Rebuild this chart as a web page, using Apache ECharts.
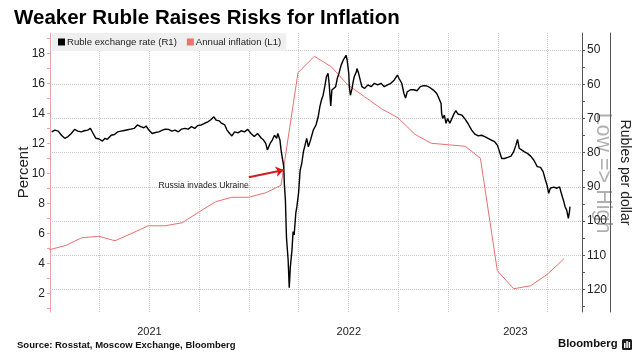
<!DOCTYPE html>
<html><head><meta charset="utf-8">
<script src="https://cdn.jsdelivr.net/npm/echarts@6/dist/echarts.min.js"></script>
<style>html,body{margin:0;padding:0;background:#fff}#c{width:640px;height:361px}</style>
</head><body><div id="c"></div>
<script>
// ---- data ----
const rubleDates = [
'2021-01-04','2021-01-10','2021-01-16','2021-01-22','2021-01-28','2021-02-03','2021-02-09','2021-02-15','2021-02-21','2021-02-27',
'2021-03-05','2021-03-11','2021-03-16','2021-03-20','2021-03-26','2021-04-01','2021-04-07','2021-04-12','2021-04-16','2021-04-23',
'2021-04-29','2021-05-05','2021-05-11','2021-05-17','2021-05-23','2021-05-29','2021-06-04','2021-06-10','2021-06-16','2021-06-22',
'2021-06-26','2021-07-01','2021-07-07','2021-07-13','2021-07-19','2021-07-25','2021-07-31','2021-08-06','2021-08-12','2021-08-18',
'2021-08-24','2021-08-30','2021-09-05','2021-09-11','2021-09-17','2021-09-23','2021-09-28','2021-10-05','2021-10-11','2021-10-17',
'2021-10-23','2021-10-28','2021-11-01','2021-11-07','2021-11-10','2021-11-17','2021-11-21','2021-11-26','2021-11-30','2021-12-05',
'2021-12-11','2021-12-17','2021-12-23','2021-12-29','2022-01-04','2022-01-10','2022-01-16','2022-01-19','2022-01-23','2022-01-27',
'2022-01-31','2022-02-03','2022-02-08','2022-02-12','2022-02-16','2022-02-20','2022-02-22','2022-02-26','2022-02-28','2022-03-02',
'2022-03-05','2022-03-06','2022-03-08','2022-03-09','2022-03-10','2022-03-11','2022-03-13','2022-03-15','2022-03-17','2022-03-20',
'2022-03-22','2022-03-24','2022-03-27','2022-03-29','2022-04-01','2022-04-04','2022-04-07','2022-04-10','2022-04-16','2022-04-19',
'2022-04-23','2022-04-28','2022-05-03','2022-05-07','2022-05-10','2022-05-13','2022-05-16','2022-05-19','2022-05-22','2022-05-25',
'2022-05-27','2022-05-30','2022-06-01','2022-06-03','2022-06-08','2022-06-11','2022-06-14','2022-06-18','2022-06-22','2022-06-24',
'2022-06-27','2022-06-29','2022-07-02','2022-07-03','2022-07-05','2022-07-08','2022-07-10','2022-07-12','2022-07-16','2022-07-17',
'2022-07-20','2022-07-23','2022-07-26','2022-07-31','2022-08-06','2022-08-12','2022-08-18','2022-08-24','2022-08-30','2022-09-05',
'2022-09-11','2022-09-17','2022-09-23','2022-09-29','2022-10-02','2022-10-07','2022-10-11','2022-10-14','2022-10-17','2022-10-23',
'2022-10-29','2022-11-04','2022-11-10','2022-11-16','2022-11-22','2022-11-28','2022-12-04','2022-12-10','2022-12-14','2022-12-18',
'2022-12-19','2022-12-21','2022-12-24','2022-12-27','2022-12-30','2023-01-03','2023-01-06','2023-01-11','2023-01-14','2023-01-18',
'2023-01-25','2023-01-30','2023-02-05','2023-02-12','2023-02-18','2023-02-24','2023-03-02','2023-03-08','2023-03-14','2023-03-20',
'2023-03-26','2023-03-31','2023-04-04','2023-04-08','2023-04-13','2023-04-19','2023-04-25','2023-04-30','2023-05-04','2023-05-07',
'2023-05-10','2023-05-13','2023-05-19','2023-05-25','2023-05-31','2023-06-06','2023-06-12','2023-06-18','2023-06-23','2023-06-27',
'2023-06-30','2023-07-03','2023-07-06','2023-07-12','2023-07-18','2023-07-23','2023-07-27','2023-07-30','2023-08-02','2023-08-05',
'2023-08-08','2023-08-10','2023-08-11'
];
const rubleRates = [
73.9,73.4,73.7,74.9,75.8,75.3,74.4,73.2,73.7,73.9,
73.6,73.4,72.9,74.1,75.8,76.0,76.6,75.8,76.1,74.9,
74.7,73.9,73.7,73.5,73.3,73.1,72.9,71.9,72.4,72.7,
72.2,73.4,74.4,74.1,73.9,73.5,73.1,73.2,73.7,73.4,
73.9,73.1,72.9,73.1,72.4,72.9,72.1,71.9,71.4,71.0,
70.3,69.5,70.5,70.7,71.3,71.9,73.4,74.4,75.1,73.9,
74.2,73.6,73.9,73.2,74.4,75.3,74.4,74.9,75.8,76.3,
77.3,79.2,77.3,76.3,74.9,75.8,74.4,76.3,79.2,81.2,
84.1,89.0,93.9,99.7,105.0,104.6,111.4,119.5,113.4,108.5,
103.1,104.1,97.7,95.8,91.9,85.1,83.1,79.7,75.8,78.3,
76.3,73.4,71.9,69.5,66.6,64.6,63.2,60.7,57.8,56.8,
59.7,66.3,61.7,61.2,60.7,58.3,56.8,54.4,52.9,53.4,
51.5,52.9,56.8,60.7,63.2,61.2,59.3,57.8,56.3,55.4,
56.8,58.8,60.7,61.2,60.2,60.7,59.7,60.2,59.7,60.7,
60.2,59.7,58.8,57.3,58.3,59.7,62.7,64.0,62.2,61.6,
61.6,61.9,60.7,60.4,60.5,61.0,61.7,62.7,64.1,65.6,
68.5,70.0,69.0,71.4,70.0,71.4,71.9,68.5,67.7,68.7,
69.0,70.0,71.4,73.4,74.6,75.1,74.9,75.3,75.8,76.3,
76.8,77.8,79.7,81.7,81.7,81.4,81.0,79.7,77.8,76.1,
78.7,79.2,79.7,80.2,81.0,82.2,84.1,84.3,85.6,88.0,
89.5,91.9,90.4,90.1,90.4,90.0,92.4,93.9,95.8,96.8,
99.2,97.3,95.8
];
const inflationDates = [
'2020-12-31','2021-01-31','2021-02-28','2021-03-31','2021-04-30','2021-05-31','2021-06-30','2021-07-31','2021-08-31','2021-09-30',
'2021-10-31','2021-11-30','2021-12-31','2022-01-31','2022-02-28','2022-03-31','2022-04-30','2022-05-31','2022-06-30','2022-07-31',
'2022-08-31','2022-09-30','2022-10-31','2022-11-30','2022-12-31','2023-01-31','2023-02-28','2023-03-31','2023-04-30','2023-05-31',
'2023-06-30','2023-07-31'
];
const inflationRates = [
4.9,5.2,5.7,5.8,5.5,6.0,6.5,6.5,6.7,7.4,
8.1,8.4,8.4,8.7,9.2,16.7,17.8,17.1,15.9,15.1,
14.3,13.7,12.6,12.0,11.9,11.8,11.0,3.5,2.3,2.5,
3.25,4.3
];
const leftLabelValues = [2,4,6,8,10,12,14,16,18];
const leftTickValues = [1,2,3,4,5,6,7,8,9,10,11,12,13,14,15,16,17,18,19];
const rightLabelValues = [50,60,70,80,90,100,110,120];
const rightTickValues = [50,55,60,65,70,75,80,85,90,95,100,105,110,115,120,125];
const quarterStarts = ['2021-04-01','2021-07-01','2021-10-01','2022-01-01','2022-04-01','2022-07-01','2022-10-01','2023-01-01','2023-04-01','2023-07-01'];
const yearLabelDates = ['2021-07-02','2022-07-02','2023-05-03'];
const axisStart = '2021-01-01', axisEnd = '2023-09-02';
const invasionArrow = [['2021-12-31', 9.73], ['2022-03-05', 10.22]];
const invasionLabelAt = ['2021-12-31', 9.17];
const seriesNames = ['Ruble exchange rate (R1)', 'Annual inflation (L1)'];

function ts(s){ const p = s.split('-').map(Number); return Date.UTC(p[0], p[1]-1, p[2]); }
const F = 'Liberation Sans, Arial, sans-serif';
const chart = echarts.init(document.getElementById('c'), null, {renderer:'canvas'});

const gridMarks = quarterStarts.map(d => ({xAxis: ts(d)})).concat(rightLabelValues.map(v => ({yAxis: v})));

chart.setOption({
  animation: false,
  backgroundColor: '#fff',
  title: {text: 'Weaker Ruble Raises Risks for Inflation', left: 14, top: 8, padding: 0,
    textStyle: {fontFamily: F, fontWeight: 'bold', fontSize: 20.5, color: '#000'}},
  legend: {left: 52, top: 33, padding: [4, 5, 4, 6], backgroundColor: '#efefef', itemWidth: 7, itemHeight: 7, itemGap: 10,
    icon: 'rect', textStyle: {fontFamily: F, fontSize: 9.6, color: '#222', padding: [0,0,0,-3]},
    data: [{name: seriesNames[0], itemStyle: {color: '#000'}}, {name: seriesNames[1], itemStyle: {color: '#f07070'}}]},
  grid: {left: 50, right: 51, top: 33, bottom: 49},
  xAxis: {type: 'value', min: ts(axisStart), max: ts(axisEnd), scale: true,
    axisLine: {show: false}, axisTick: {show: false}, splitLine: {show: false},
    axisLabel: {customValues: yearLabelDates.map(ts), formatter: v => String(new Date(v).getUTCFullYear()),
      fontFamily: F, fontSize: 11, color: '#222', margin: 14, hideOverlap: false}},
  yAxis: [
    {type: 'value', position: 'left', min: 0.75, max: 19.35,
      axisLine: {show: true, lineStyle: {color: '#f0a0a0'}},
      axisTick: {show: true, length: 3, customValues: leftTickValues, lineStyle: {color: '#f0a0a0'}},
      axisLabel: {customValues: leftLabelValues, fontFamily: F, fontSize: 12, color: '#222', margin: 5},
      splitLine: {show: false},
      name: 'Percent', nameLocation: 'middle', nameRotate: 90, nameGap: 19, nameMoveOverlap: false,
      nameTextStyle: {fontFamily: F, fontSize: 15, color: '#222'}},
    {type: 'value', position: 'right', inverse: true, min: 45, max: 126.6,
      axisLine: {show: true, lineStyle: {color: '#555'}},
      axisTick: {show: true, length: 3, customValues: rightTickValues, lineStyle: {color: '#555'}},
      axisLabel: {customValues: rightLabelValues, fontFamily: F, fontSize: 12, color: '#222', margin: 5},
      splitLine: {show: false}},
    {type: 'value', position: 'right', offset: 28, inverse: true, min: 45, max: 126.6,
      axisLine: {show: true, lineStyle: {color: '#555'}}, axisTick: {show: false}, axisLabel: {show: false},
      splitLine: {show: false},
      name: 'Rubles per dollar', nameLocation: 'middle', nameRotate: -90, nameGap: 8, nameMoveOverlap: false,
      nameTextStyle: {fontFamily: F, fontSize: 14, color: '#222'}}
  ],
  series: [
    {name: seriesNames[0], type: 'line', yAxisIndex: 1, showSymbol: false, z: 3,
      lineStyle: {color: '#000', width: 1.4}, itemStyle: {color: '#000'},
      data: rubleDates.map((d, i) => [ts(d), rubleRates[i]]),
      markLine: {z: 1, silent: true, symbol: 'none', label: {show: false},
        lineStyle: {color: '#c8c8c8', width: 1, type: 'dotted'}, data: gridMarks}},
    {name: seriesNames[1], type: 'line', yAxisIndex: 0, showSymbol: false, z: 2,
      lineStyle: {color: '#e8706e', width: 1}, itemStyle: {color: '#f07070'},
      data: inflationDates.map((d, i) => [ts(d), inflationRates[i]]),
      markLine: {z: 6, silent: true, symbol: ['none', 'arrow'], symbolSize: 8, label: {show: false},
        lineStyle: {color: '#d41c1c', width: 2, type: 'solid'},
        data: [[{coord: [ts(invasionArrow[0][0]), invasionArrow[0][1]]}, {coord: [ts(invasionArrow[1][0]), invasionArrow[1][1]]}]]},
      markPoint: {silent: true, data: [{coord: [ts(invasionLabelAt[0]), invasionLabelAt[1]], symbol: 'circle', symbolSize: 0,
        label: {show: true, position: 'left', distance: 0, formatter: 'Russia invades Ukraine', fontFamily: F, fontSize: 8.6, color: '#222'}}]}}
  ],
  graphic: [
    {type: 'text', x: 603, y: 173, rotation: -Math.PI/2, silent: true,
      style: {text: 'Low => High', fontFamily: F, fontSize: 21.5, fill: '#b0b0b0', align: 'center', verticalAlign: 'middle'}},
    {type: 'text', left: 17, top: 340, silent: true,
      style: {text: 'Source: Rosstat, Moscow Exchange, Bloomberg', fontFamily: F, fontWeight: 'bold', fontSize: 9.5, fill: '#111'}},
    {type: 'text', left: 558, top: 338, silent: true,
      style: {text: 'Bloomberg', fontFamily: F, fontWeight: 'bold', fontSize: 11.3, fill: '#111'}},
    {type: 'group', left: 622, top: 339, silent: true, children: [
      {type: 'rect', shape: {x: 0, y: 0, width: 10, height: 11, r: 1.5}, style: {fill: '#1a1a1a'}},
      {type: 'rect', shape: {x: 2, y: 4, width: 1.5, height: 5}, style: {fill: '#fff'}},
      {type: 'rect', shape: {x: 4.3, y: 2, width: 1.5, height: 7}, style: {fill: '#fff'}},
      {type: 'rect', shape: {x: 6.6, y: 3, width: 1.5, height: 6}, style: {fill: '#fff'}}
    ]}
  ]
});
</script></body></html>
